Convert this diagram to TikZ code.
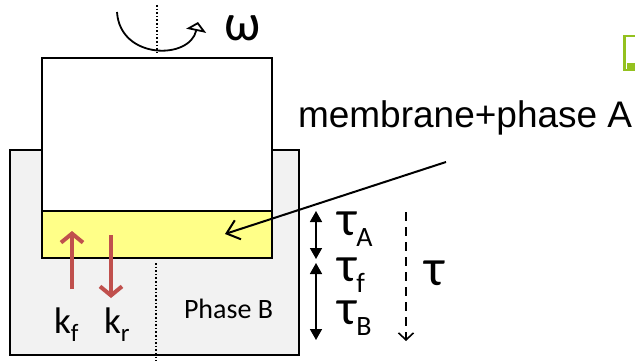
\documentclass[tikz,border=0pt]{standalone}
\usepackage{fontspec}
\setmainfont{Carlito}
\newfontfamily\arialf{Liberation Sans}
\usetikzlibrary{arrows.meta}
\definecolor{panelgray}{HTML}{F2F2F2}
\definecolor{memyellow}{HTML}{FFFF88}
\definecolor{kred}{HTML}{C0504D}
\definecolor{logogreen}{HTML}{94C11F}
\newcommand{\tausub}[1]{{\fontsize{50}{50}\selectfont τ}{\fontsize{28}{28}\selectfont\raisebox{-11pt}[0pt][0pt]{#1}}}
\newcommand{\ksub}[1]{{\fontsize{37}{37}\selectfont k}{\fontsize{25}{25}\selectfont\raisebox{-8pt}[0pt][0pt]{#1}}}
\tikzset{
  box/.style={draw=black, line width=2pt},
  axis/.style={black, line width=1.6pt, dotted},
  red arrow/.style={kred, line width=4pt, -{Straight Barb[length=9pt,width=22pt]}},
  tau arrow/.style={black, line width=1.6pt, {Triangle[length=11pt,width=12pt]}-{Triangle[length=11pt,width=12pt]}},
  lbl/.style={inner sep=0pt, outer sep=0pt}
}
\begin{document}
\begin{tikzpicture}[x=1pt,y=-1pt]
\useasboundingbox (0,0) rectangle (635,361);
% outer container
\path[box, fill=panelgray] (10,150) rectangle (299,355);
% inner cylinder
\path[box, fill=white] (42,58) rectangle (272,211);
\path[box, fill=memyellow] (42,211) rectangle (272,258);
\coordinate (mem) at (225,234);
% axis
\coordinate (ax1) at (157,5);
\coordinate (ax2) at (157,53);
\coordinate (ax3) at (156,263);
\coordinate (ax4) at (156,361);
\draw[axis] (ax1) -- (ax2);
\draw[axis] (ax3) -- (ax4);
% rotation
\coordinate (r1) at (117,12);
\coordinate (r2) at (198,22);
\draw[line width=1.8pt, -{Triangle[open,length=9pt,width=20pt]}] (r1) .. controls (120,60) and (190,60) .. (r2);
\node[lbl, anchor=base west, font=\fontsize{52}{52}\selectfont] (omega) at (224,41) {ω};
% label
\node[lbl, anchor=base west, font=\arialf\fontsize{37}{37}\selectfont] (memlbl) at (298,128) {membrane+phase A};
\coordinate (ms) at (446,162);
\draw[line width=2pt, -{Straight Barb[length=12pt,width=20pt]}] (ms) -- (mem);
% red arrows
\coordinate (kf1) at (72,289);
\coordinate (kf2) at (72,231);
\coordinate (kr1) at (111,235);
\coordinate (kr2) at (111,298);
\draw[red arrow] (kf1) -- (kf2);
\draw[red arrow] (kr1) -- (kr2);
\node[lbl, anchor=base west] (kf) at (54,333) {\ksub{f}};
\node[lbl, anchor=base west] (kr) at (104,333) {\ksub{r}};
\node[lbl, anchor=base west, font=\fontsize{28}{28}\selectfont] (phb) at (184,318) {Phase B};
% tau arrows
\coordinate (ta1) at (316,211);
\coordinate (ta2) at (316,259);
\coordinate (tb1) at (316,263);
\coordinate (tb2) at (316,340);
\draw[tau arrow] (ta1) -- (ta2);
\draw[tau arrow] (tb1) -- (tb2);
\node[lbl, anchor=base west] (tA) at (337,235) {\tausub{A}};
\node[lbl, anchor=base west] (tf) at (337,281) {\tausub{f}};
\node[lbl, anchor=base west] (tB) at (337,324) {\tausub{B}};
\coordinate (d1) at (406,212);
\coordinate (d2) at (406,341);
\draw[line width=1.6pt, dash pattern=on 9pt off 6pt, -{Straight Barb[length=7pt,width=15pt]}] (d1) -- (d2);
\node[lbl, anchor=base west, font=\fontsize{52}{52}\selectfont] (tau) at (424,285) {τ};
% green corner element
\draw[logogreen, line width=2.5pt] (640,36) -- (624.5,36) -- (624.5,70) -- (640,70);
\fill[logogreen] (627,63) rectangle (640,71);
\end{tikzpicture}
\end{document}
